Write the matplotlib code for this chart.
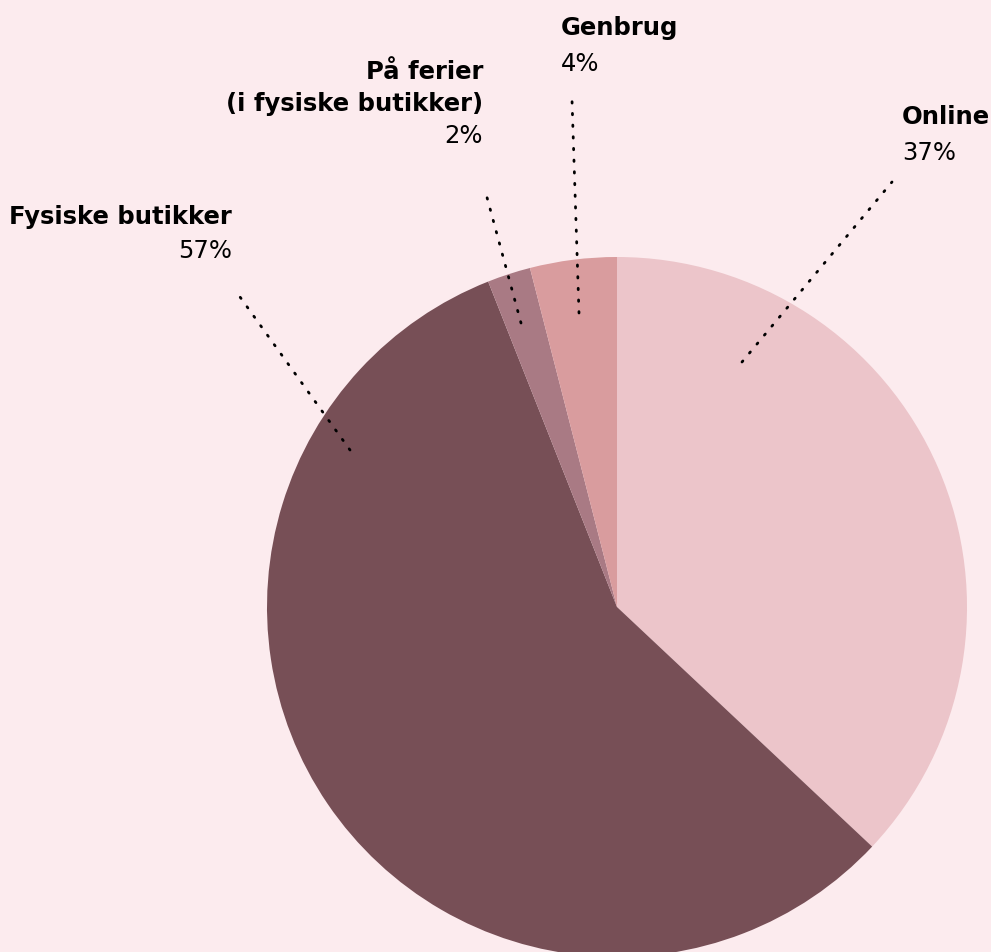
import matplotlib
matplotlib.use("Agg")
import matplotlib.pyplot as plt

labels = ["Online", "Fysiske butikker", "På ferier\n(i fysiske butikker)", "Genbrug"]
values = [37, 57, 2, 4]
pct_labels = ["37%", "57%", "2%", "4%"]
colors = ["#ECC5CA", "#774F56", "#A97A84", "#D99C9E"]
bg = "#FCEBEE"

plt.rcParams['font.family'] = ['DejaVu Sans']

fig = plt.figure(figsize=(9.91, 9.52), dpi=100, facecolor=bg)
ax = fig.add_axes([0, 0, 1, 1])
ax.set_facecolor(bg)

# y axis is inverted below, so counterclock in data = clockwise on screen
wedges, _ = ax.pie(values, colors=colors, startangle=-90, counterclock=True,
                   center=(617, 607), radius=350, frame=True,
                   wedgeprops=dict(linewidth=0))
ax.set_xlim(0, 991)
ax.set_ylim(952, 0)
ax.set_aspect('equal')
ax.axis('off')

leaders = [((742, 362), (892, 182)),
           ((350, 450), (235, 290)),
           ((521, 323), (485, 190)),
           ((579, 313), (572, 100))]
for (p1, p2) in leaders:
    ax.plot([p1[0], p2[0]], [p1[1], p2[1]], color="black", lw=2.0,
            linestyle=(0, (0.5, 3.7)), dash_capstyle='round')

fs = 17.5
ax.text(902, 117, labels[0], fontsize=fs, fontweight='bold', ha='left', va='center')
ax.text(902, 153, pct_labels[0], fontsize=fs, ha='left', va='center')

ax.text(232, 217, labels[1], fontsize=fs, fontweight='bold', ha='right', va='center')
ax.text(232, 251, pct_labels[1], fontsize=fs, ha='right', va='center')

ax.text(483, 72, "På ferier", fontsize=fs, fontweight='bold', ha='right', va='center')
ax.text(483, 104, "(i fysiske butikker)", fontsize=fs, fontweight='bold', ha='right', va='center')
ax.text(483, 136, pct_labels[2], fontsize=fs, ha='right', va='center')

ax.text(561, 28, labels[3], fontsize=fs, fontweight='bold', ha='left', va='center')
ax.text(561, 64, pct_labels[3], fontsize=fs, ha='left', va='center')

fig.savefig("out.png", dpi=100, facecolor=bg)
